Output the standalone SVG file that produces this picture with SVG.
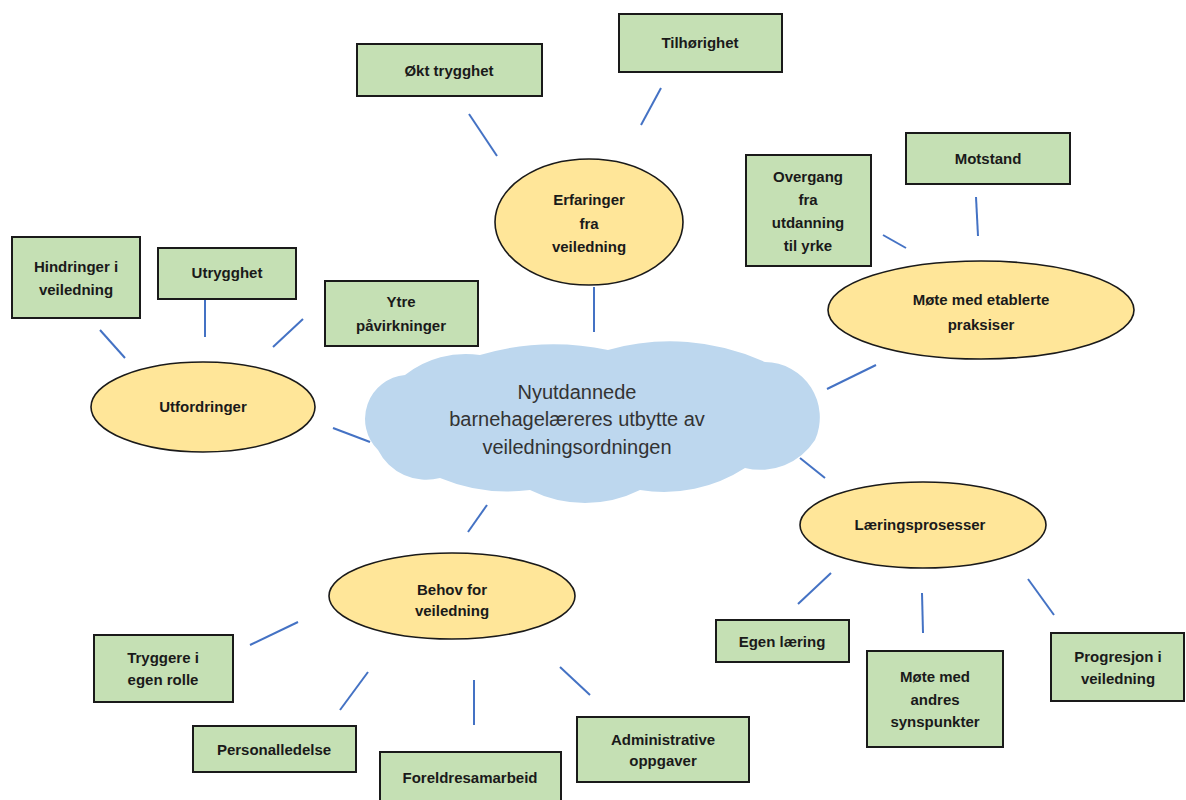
<svg xmlns="http://www.w3.org/2000/svg" width="1186" height="800" viewBox="0 0 1186 800">
<style>
.box{fill:#C5E0B4;stroke:#1a1a1a;stroke-width:2}
.ell{fill:#FFE699;stroke:#1a1a1a;stroke-width:1.6}
.lbl{font-family:"Liberation Sans",Arial,sans-serif;font-weight:bold;font-size:15px;fill:#1a1a1a;text-anchor:middle}
.ctext{font-family:"Liberation Sans",Arial,sans-serif;font-size:20px;fill:#333;text-anchor:middle}
.conn line{stroke:#4472C4;stroke-width:2}
</style>
<rect width="1186" height="800" fill="#fff"/>
<g id="connectors" class="conn">
<line x1="469" y1="114" x2="497" y2="156"/>
<line x1="661" y1="88" x2="641" y2="125"/>
<line x1="594" y1="287" x2="594" y2="332"/>
<line x1="100" y1="330" x2="125" y2="358"/>
<line x1="205" y1="299" x2="205" y2="337"/>
<line x1="303" y1="319" x2="273" y2="347"/>
<line x1="333" y1="428" x2="370" y2="442"/>
<line x1="976" y1="197" x2="978" y2="236"/>
<line x1="883" y1="235" x2="906" y2="248"/>
<line x1="876" y1="365" x2="827" y2="389"/>
<line x1="800" y1="458" x2="825" y2="478"/>
<line x1="831" y1="573" x2="798" y2="604"/>
<line x1="922" y1="593" x2="923" y2="633"/>
<line x1="1028" y1="579" x2="1054" y2="615"/>
<line x1="468" y1="532" x2="487" y2="505"/>
<line x1="250" y1="645" x2="298" y2="622"/>
<line x1="340" y1="710" x2="368" y2="672"/>
<line x1="474" y1="680" x2="474" y2="725"/>
<line x1="560" y1="667" x2="590" y2="695"/>
</g>
<g id="center">
<path fill="#BDD7EE" d="M378,450 A44,44 0 0 1 405,375 A98,98 0 0 1 480,355 A260,260 0 0 1 608,350 A228,228 0 0 1 765,362 A55.4,55.4 0 0 1 815,440 A65,65 0 0 1 745,468 A149,149 0 0 1 640,490 A123,123 0 0 1 530,490 A175,175 0 0 1 440,478 A54,54 0 0 1 378,450 Z"/>
<text class="ctext" x="577" y="399">Nyutdannede</text>
<text class="ctext" x="577" y="426">barnehagelæreres utbytte av</text>
<text class="ctext" x="577" y="454">veiledningsordningen</text>
</g>
<g id="erfaringer"><ellipse class="ell" cx="589" cy="222" rx="94" ry="63"/><text class="lbl" x="589" y="205">Erfaringer</text><text class="lbl" x="589" y="229">fra</text><text class="lbl" x="589" y="252">veiledning</text></g>
<g id="okt"><rect class="box" x="357" y="44" width="185" height="52"/><text class="lbl" x="449" y="76">Økt trygghet</text></g>
<g id="tilhorighet"><rect class="box" x="619" y="14" width="163" height="58"/><text class="lbl" x="700" y="48">Tilhørighet</text></g>
<g id="utfordringer"><ellipse class="ell" cx="203" cy="407" rx="112" ry="45"/><text class="lbl" x="203" y="412">Utfordringer</text></g>
<g id="hindringer"><rect class="box" x="12" y="237" width="128" height="81"/><text class="lbl" x="76" y="272">Hindringer i</text><text class="lbl" x="76" y="295">veiledning</text></g>
<g id="utrygghet"><rect class="box" x="158" y="248" width="138" height="51"/><text class="lbl" x="227" y="278">Utrygghet</text></g>
<g id="ytre"><rect class="box" x="325" y="281" width="153" height="65"/><text class="lbl" x="401" y="307">Ytre</text><text class="lbl" x="401" y="331">påvirkninger</text></g>
<g id="mote-etablerte"><ellipse class="ell" cx="981" cy="310" rx="153" ry="49"/><text class="lbl" x="981" y="305">Møte med etablerte</text><text class="lbl" x="981" y="330">praksiser</text></g>
<g id="overgang"><rect class="box" x="746" y="155" width="125" height="111"/><text class="lbl" x="808" y="182">Overgang</text><text class="lbl" x="808" y="205">fra</text><text class="lbl" x="808" y="228">utdanning</text><text class="lbl" x="808" y="251">til yrke</text></g>
<g id="motstand"><rect class="box" x="906" y="133" width="164" height="51"/><text class="lbl" x="988" y="164">Motstand</text></g>
<g id="laering"><ellipse class="ell" cx="923" cy="525" rx="123" ry="43"/><text class="lbl" x="920" y="530">Læringsprosesser</text></g>
<g id="egen"><rect class="box" x="716" y="620" width="133" height="42"/><text class="lbl" x="782" y="647">Egen læring</text></g>
<g id="mote-andres"><rect class="box" x="867" y="651" width="136" height="96"/><text class="lbl" x="935" y="682">Møte med</text><text class="lbl" x="935" y="705">andres</text><text class="lbl" x="935" y="727">synspunkter</text></g>
<g id="progresjon"><rect class="box" x="1051" y="633" width="133" height="68"/><text class="lbl" x="1118" y="662">Progresjon i</text><text class="lbl" x="1118" y="684">veiledning</text></g>
<g id="behov"><ellipse class="ell" cx="452" cy="596" rx="123" ry="43"/><text class="lbl" x="452" y="595">Behov for</text><text class="lbl" x="452" y="616">veiledning</text></g>
<g id="tryggere"><rect class="box" x="94" y="635" width="139" height="67"/><text class="lbl" x="163" y="663">Tryggere i</text><text class="lbl" x="163" y="685">egen rolle</text></g>
<g id="personal"><rect class="box" x="193" y="726" width="163" height="46"/><text class="lbl" x="274" y="755">Personalledelse</text></g>
<g id="foreldre"><rect class="box" x="380" y="752" width="181" height="60"/><text class="lbl" x="470" y="783">Foreldresamarbeid</text></g>
<g id="admin"><rect class="box" x="577" y="717" width="172" height="65"/><text class="lbl" x="663" y="745">Administrative</text><text class="lbl" x="663" y="766">oppgaver</text></g>
</svg>
